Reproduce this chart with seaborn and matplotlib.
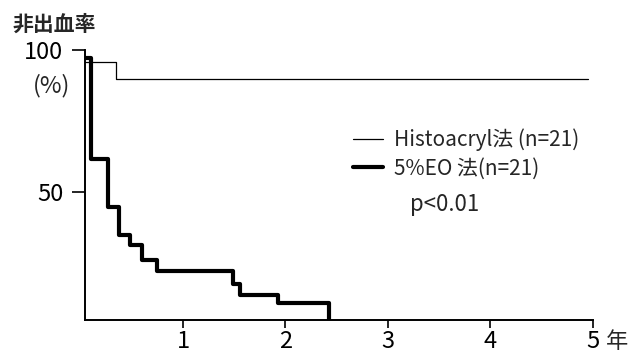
import numpy as np
import pandas as pd
import matplotlib
matplotlib.use("Agg")
import matplotlib.pyplot as plt
import seaborn as sns

# 生存曲線 (非出血率, %) — 図から読み取った値
hist_years = [0.0, 0.35, 4.95]
hist_rate = [95.8, 89.8, 89.8]

eo_years = [0.0, 0.10, 0.27, 0.38, 0.48, 0.60, 0.75, 1.49, 1.56, 1.93, 2.42]
eo_rate = [97.2, 61.6, 44.7, 34.9, 31.3, 26.0, 22.2, 17.6, 13.7, 10.9, 0.0]

labels = ["Histoacryl法 (n=21)", "5%EO 法(n=21)"]
x_ticks = [1, 2, 3, 4, 5]
y_ticks = [50, 100]

sns.set_style("ticks")
plt.rcParams["font.family"] = ["Noto Sans CJK JP", "DejaVu Sans"]

W, H = 629, 353
fig = plt.figure(figsize=(W / 100, H / 100), dpi=100)
ax = fig.add_axes([85 / W, 1 - 320 / H, (593 - 85) / W, (320 - 50) / H])

sns.lineplot(x=hist_years, y=hist_rate, drawstyle="steps-post", color="black",
             linewidth=0.9, estimator=None, sort=False, ax=ax, label=labels[0])
sns.lineplot(x=eo_years, y=eo_rate, drawstyle="steps-post", color="black",
             linewidth=3.0, estimator=None, sort=False, ax=ax, label=labels[1])

ax.set_xlim(0.044, 5.0)
ax.set_ylim(4.9, 100)
ax.set_xticks(x_ticks)
ax.set_xticklabels([str(t) for t in x_ticks])
ax.set_yticks(y_ticks)
ax.set_yticklabels([str(t) for t in y_ticks])
ax.set_xlabel("")
ax.set_ylabel("")

for side in ["top", "right"]:
    ax.spines[side].set_visible(False)
for side in ["left", "bottom"]:
    ax.spines[side].set_linewidth(1.4)
    ax.spines[side].set_color("black")

ax.tick_params(axis="y", direction="out", length=9.5, width=1.2, pad=6,
               labelsize=17, colors="black")
ax.tick_params(axis="x", direction="out", length=5.5, width=1.2, pad=2,
               labelsize=17, colors="black")

leg = ax.legend(loc="center left", bbox_to_anchor=(353 / W, 1 - 154 / H),
                bbox_transform=fig.transFigure, frameon=False, fontsize=15,
                handlelength=1.45, handletextpad=0.5, borderpad=0,
                borderaxespad=0, labelspacing=0.3)

fig.text(12 / W, 1 - 24 / H, "非出血率", fontsize=15, fontweight="bold",
         ha="left", va="center")
fig.text(52 / W, 1 - 86 / H, "(%)", fontsize=17, ha="center", va="center")
fig.text(617 / W, 1 - 342 / H, "年", fontsize=16, ha="center", va="center")
fig.text(410 / W, 1 - 205 / H, "p<0.01", fontsize=16, ha="left", va="center")

fig.savefig("out.png", dpi=100, facecolor="white")
